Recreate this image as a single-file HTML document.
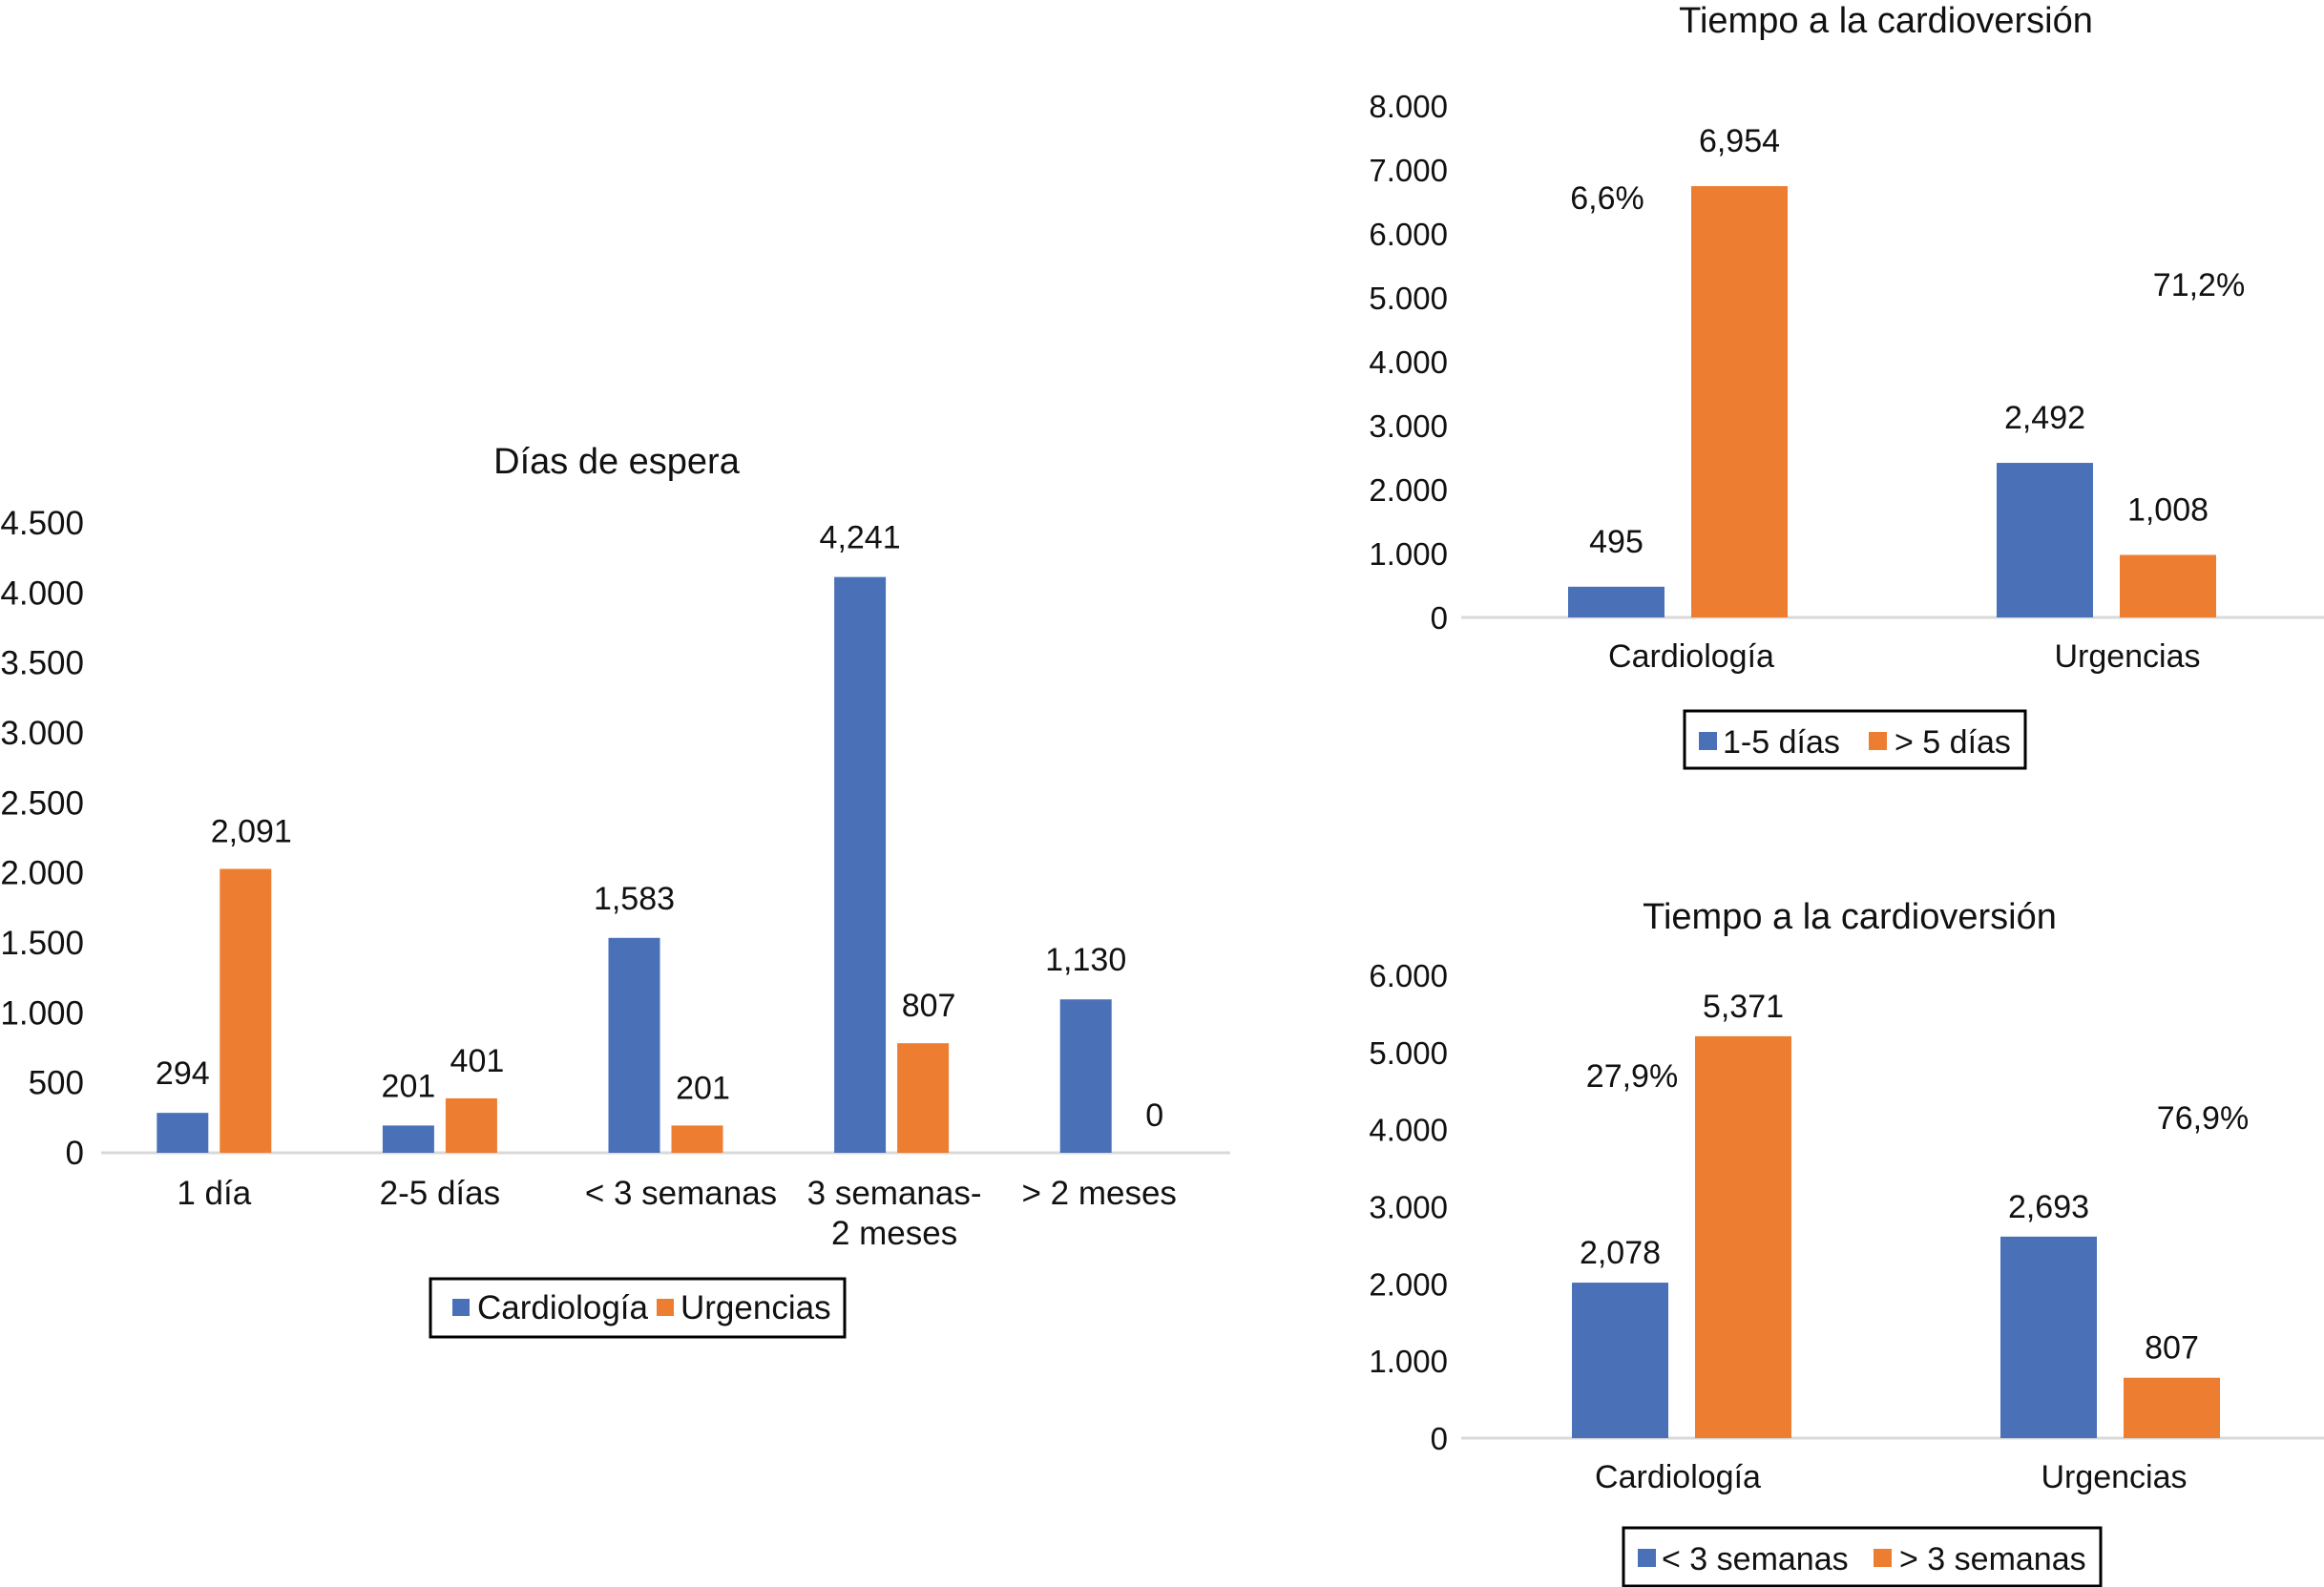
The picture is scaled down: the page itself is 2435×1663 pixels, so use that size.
<!DOCTYPE html>
<html><head><meta charset="utf-8">
<style>
html,body{margin:0;padding:0;background:#fff;}
svg{display:block;}
.l{font-family:"Liberation Sans",sans-serif;fill:#111;}
.n{font-family:"Liberation Sans Narrow","Liberation Sans",sans-serif;fill:#111;}
</style></head>
<body>
<svg id="chart" width="2435" height="1663" viewBox="0 0 2435 1663" xmlns="http://www.w3.org/2000/svg"></svg>
<script>
// Chart 1: Días de espera
const c1Categories = [["1 día"],["2-5 días"],["< 3 semanas"],["3 semanas-","2 meses"],["> 2 meses"]];
const c1Cardio = [294, 201, 1583, 4241, 1130];
const c1Urg = [2091, 401, 201, 807, 0];
const c1Labels1 = ["294","201","1,583","4,241","1,130"];
const c1Labels2 = ["2,091","401","201","807","0"];
const c1Ticks = [0,500,1000,1500,2000,2500,3000,3500,4000,4500];
const c1TickLabels = ["0","500","1.000","1.500","2.000","2.500","3.000","3.500","4.000","4.500"];
// Chart 2
const c2Categories = ["Cardiología","Urgencias"];
const c2A = [495, 2492];
const c2B = [6954, 1008];
const c2LabelsA = ["495","2,492"];
const c2LabelsB = ["6,954","1,008"];
const c2Pct = ["6,6%","71,2%"];
const c2Ticks = [0,1000,2000,3000,4000,5000,6000,7000,8000];
const c2TickLabels = ["0","1.000","2.000","3.000","4.000","5.000","6.000","7.000","8.000"];
// Chart 3
const c3Categories = ["Cardiología","Urgencias"];
const c3A = [2078, 2693];
const c3B = [5371, 807];
const c3LabelsA = ["2,078","2,693"];
const c3LabelsB = ["5,371","807"];
const c3Pct = ["27,9%","76,9%"];
const c3Ticks = [0,1000,2000,3000,4000,5000,6000];
const c3TickLabels = ["0","1.000","2.000","3.000","4.000","5.000","6.000"];

const svg = document.getElementById('chart');
const NS = "http://www.w3.org/2000/svg";
const BLUE = "#4a70b8", ORANGE = "#ed7d31";
const BARSCALE = 0.97;
function mk(tag, attrs, parent){ const e=document.createElementNS(NS,tag); for(const k in attrs) e.setAttribute(k,attrs[k]); (parent||svg).appendChild(e); return e; }
function txt(x,y,s,size,cls,anchor,parent){ const t=mk('text',{x:x,y:y,'font-size':size,'text-anchor':anchor||'middle','class':cls},parent); t.textContent=s; return t; }

// ---------- Chart 1 ----------
(function(){
  const g = mk('g',{});
  
  
  const base=1208, top=548, vmax=4500, x0=106, x1=1289;
  const y = v => base - (v/vmax)*(base-top);
  const yb = v => base - (v*BARSCALE/vmax)*(base-top);
  const gw=(x1-x0)/c1Cardio.length, bw=54, gap=12;
  const xc = i => x0 + gw*(i+0.5);
  const catOff=[0,0,16,3,-19];
  const t = txt(646,496,"Días de espera",38,'l','middle',g);
  
  
  c1Ticks.forEach((v,i)=>{
    const tl=txt(88,y(v)+12,c1TickLabels[i],35,'l','end',g);
    
    
  });
  const ax=mk('line',{x1:x0,x2:x1,y1:base,y2:base,stroke:'#d9d9d9','stroke-width':3},g);
  
  
  c1Cardio.forEach((v,i)=>{
    const c=xc(i);
    const b1=mk('rect',{x:c-gap/2-bw,y:yb(v),width:bw,height:base-yb(v),fill:BLUE},g);
    
    
    const v2=c1Urg[i];
    const b2=mk('rect',{x:c+gap/2,y:yb(v2),width:bw,height:base-yb(v2),fill:ORANGE},g);
    
    
    const l1=txt(c-gap/2-bw/2,yb(v)-30,c1Labels1[i],34,'l','middle',g);
    
    
    const l2=txt(c+gap/2+bw/2+6,yb(v2)-28,c1Labels2[i],34,'l','middle',g);
    
    
    c1Categories[i].forEach((s,k)=>{
      const cl=txt(c+catOff[i],1262+k*42,s,35,'l','middle',g);
      
      
    });
  });
  const lg=mk('g',{},g);
  
  
  mk('rect',{x:451,y:1340,width:434,height:61,fill:'none',stroke:'#000','stroke-width':3},lg);
  mk('rect',{x:474,y:1361,width:18,height:18,fill:BLUE},lg);
  const e1=txt(500,1382,"Cardiología",35,'l','start',lg);
  
  
  mk('rect',{x:688,y:1361,width:18,height:18,fill:ORANGE},lg);
  const e2=txt(713,1382,"Urgencias",35,'l','start',lg);
  
  
})();

// ---------- Charts 2 & 3 ----------
function rightChart(o){
  const g=mk('g',{});
  
  
  const y=v=>o.base-(v/o.vmax)*(o.base-o.top);
  const yb=v=>o.base-(v*BARSCALE/o.vmax)*(o.base-o.top);
  const t=txt(o.titleX,o.titleY,"Tiempo a la cardioversión",38,'n','middle',g);
  
  
  o.ticks.forEach((v,i)=>{
    const tl=txt(1517,y(v)+12,o.tickLabels[i],33,'n','end',g);
    
    
  });
  const ax=mk('line',{x1:1531,x2:2435,y1:o.base,y2:o.base,stroke:'#d9d9d9','stroke-width':3},g);
  
  
  const centers=[o.c0, o.c0+449], bw=101, gap=28;
  o.a.forEach((v,i)=>{
    const c=centers[i];
    const b1=mk('rect',{x:c-gap/2-bw,y:yb(v),width:bw,height:o.base-yb(v),fill:BLUE},g);
    
    
    const v2=o.b[i];
    const b2=mk('rect',{x:c+gap/2,y:yb(v2),width:bw,height:o.base-yb(v2),fill:ORANGE},g);
    
    
    const l1=txt(c-gap/2-bw/2,yb(v)-o.lab,o.la[i],34,'n','middle',g);
    
    
    const l2=txt(c+gap/2+bw/2,yb(v2)-o.lab,o.lb[i],34,'n','middle',g);
    
    
    const cl=txt(c+o.catOff[i],o.base+52,o.cats[i],34,'n','middle',g);
    
    
    const p=txt(o.pctX[i],o.pctY[i],o.pct[i],34,'n','middle',g);
    
    
  });
  const lg=mk('g',{},g);
  
  
  const L=o.leg;
  mk('rect',{x:L.x,y:L.y,width:L.w,height:L.h,fill:'none',stroke:'#000','stroke-width':3},lg);
  mk('rect',{x:L.x+15,y:L.y+22,width:19,height:19,fill:BLUE},lg);
  const e1=txt(L.x+40,L.y+44,L.t1,34,'n','start',lg);
  
  
  mk('rect',{x:L.x2,y:L.y+22,width:19,height:19,fill:ORANGE},lg);
  const e2=txt(L.x2+27,L.y+44,L.t2,34,'n','start',lg);
  
  
}
rightChart({name:'tiempo-cardioversion-dias-chart',base:647,top:111,vmax:8000,ticks:c2Ticks,tickLabels:c2TickLabels,
  a:c2A,b:c2B,la:c2LabelsA,lb:c2LabelsB,cats:c2Categories,pct:c2Pct,pctX:[1684,2304],pctY:[219,310],
  c0:1758,titleX:1976,titleY:34,s1:'1-5-dias',s2:'mas-5-dias',lab:36,catOff:[14,22],
  leg:{x:1765,y:745,w:357,h:60,x2:1958,t1:"1-5 días",t2:"> 5 días"}});
rightChart({name:'tiempo-cardioversion-semanas-chart',base:1507,top:1022,vmax:6000,ticks:c3Ticks,tickLabels:c3TickLabels,
  a:c3A,b:c3B,la:c3LabelsA,lb:c3LabelsB,cats:c3Categories,pct:c3Pct,pctX:[1710,2308],pctY:[1139,1183],
  c0:1762,titleX:1938,titleY:973,s1:'menos-3-semanas',s2:'mas-3-semanas',lab:20,catOff:[-4,4],
  leg:{x:1701,y:1601,w:500,h:61,x2:1963,t1:"< 3 semanas",t2:"> 3 semanas"}});
</script>
</body></html>
